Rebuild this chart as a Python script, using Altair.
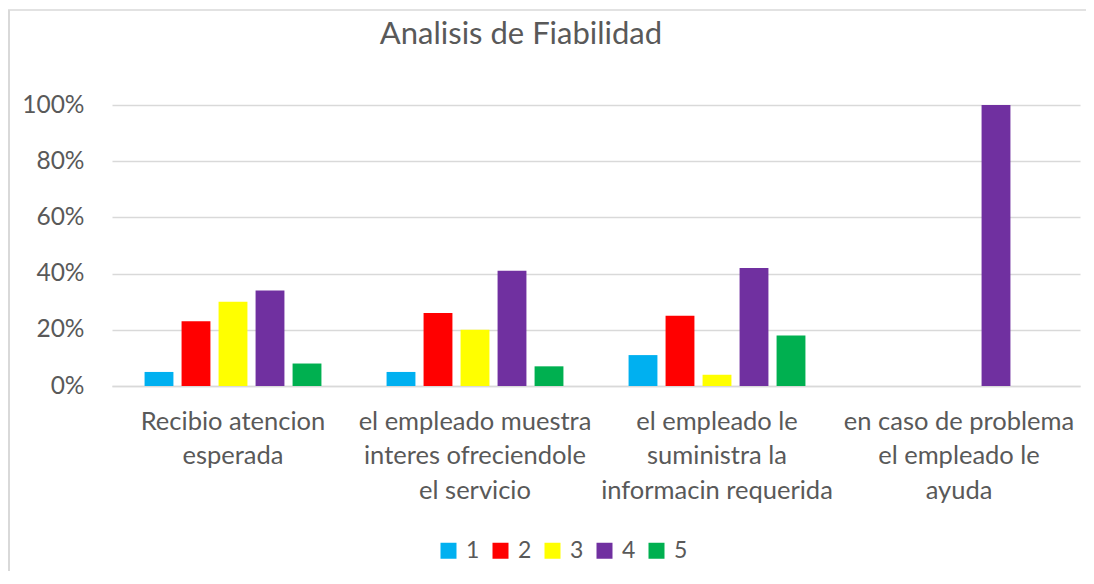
import altair as alt
import pandas as pd

categories = [
    "Recibio atencion|esperada",
    "el empleado muestra|interes ofreciendole|el servicio",
    "el empleado le|suministra la|informacin requerida",
    "en caso de problema|el empleado le|ayuda",
]
series = ["1", "2", "3", "4", "5"]
colors = ["#00B0F0", "#FF0000", "#FFFF00", "#7030A0", "#00B050"]
chart_title = "Analisis de Fiabilidad"

s1 = [0.05, 0.05, 0.11, 0.00]
s2 = [0.23, 0.26, 0.25, 0.00]
s3 = [0.30, 0.20, 0.04, 0.00]
s4 = [0.34, 0.41, 0.42, 1.00]
s5 = [0.08, 0.07, 0.18, 0.00]

rows = []
for name, vals in zip(series, [s1, s2, s3, s4, s5]):
    for c, v in zip(categories, vals):
        rows.append({"cat": c, "serie": name, "valor": v})
df = pd.DataFrame(rows)

FONT = "Lato"
GREY = "#595959"
LINE = "#d9d9d9"

bars = alt.Chart(df).mark_bar().encode(
    x=alt.X(
        "cat:N",
        sort=categories,
        scale=alt.Scale(paddingInner=0, paddingOuter=0),
        axis=alt.Axis(
            title=None,
            labelExpr="split(datum.label, '|')",
            labelAngle=0,
            ticks=False,
            grid=False,
            domain=True,
            domainColor=LINE,
            domainWidth=1.5,
            labelFontSize=25.5,
            labelLineHeight=34.5,
            labelPadding=23,
            labelColor=GREY,
            labelFont=FONT,
            labelLimit=400,
            labelOverlap=False,
        ),
    ),
    xOffset=alt.XOffset(
        "serie:N", sort=series, scale=alt.Scale(paddingInner=0.22, paddingOuter=0.88)
    ),
    y=alt.Y(
        "valor:Q",
        scale=alt.Scale(domain=[0, 1]),
        axis=alt.Axis(
            title=None,
            format=".0%",
            values=[0, 0.2, 0.4, 0.6, 0.8, 1.0],
            domain=False,
            ticks=False,
            grid=True,
            gridColor=LINE,
            gridWidth=1.5,
            labelFontSize=24.5,
            labelFont=FONT,
            labelColor=GREY,
            labelPadding=28,
        ),
    ),
    color=alt.Color(
        "serie:N",
        sort=series,
        scale=alt.Scale(domain=series, range=colors),
        legend=alt.Legend(
            title=None,
            orient="none",
            legendX=325,
            legendY=434,
            direction="horizontal",
            symbolType="square",
            symbolSize=256,
            symbolStrokeWidth=0,
            symbolOpacity=1,
            labelFontSize=23,
            labelFont=FONT,
            labelColor=GREY,
            labelOffset=6,
            columnPadding=9,
        ),
    ),
)

frame_df = pd.DataFrame({"k": [0]})
left_line = alt.Chart(frame_df).mark_rule(color=LINE, strokeWidth=2).encode(
    x=alt.value(-103), y=alt.value(-95), y2=alt.value(480)
)
top_line = alt.Chart(frame_df).mark_rule(color=LINE, strokeWidth=1.5).encode(
    x=alt.value(-104), x2=alt.value(990), y=alt.value(-95)
)
title_text = alt.Chart(frame_df).mark_text(
    text=chart_title,
    font=FONT,
    fontSize=31,
    color=GREY,
    align="center",
    baseline="alphabetic",
).encode(x=alt.value(409), y=alt.value(-61))

chart = alt.layer(left_line, top_line, title_text, bars).properties(
    width=968,
    height=281,
    autosize=alt.AutoSizeParams(type="none"),
    padding={"left": 104, "top": 97, "right": 6, "bottom": 185},
).configure(background="white", view=alt.ViewConfig(stroke=None))

chart.save("out.html", embed_options={"renderer": "svg", "actions": False})
